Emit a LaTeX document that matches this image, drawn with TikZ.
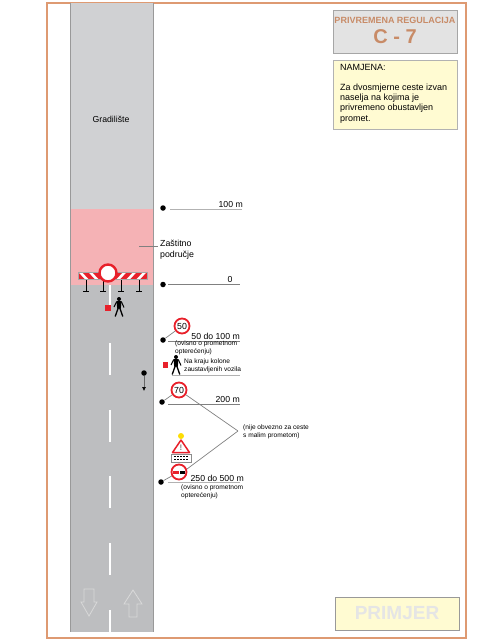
\documentclass[tikz,border=0pt]{standalone}
\usepackage{fontspec}
\setmainfont{Liberation Sans}
\usetikzlibrary{arrows.meta}
\definecolor{frameor}{HTML}{DE9A72}
\definecolor{roadlt}{HTML}{D0D1D3}
\definecolor{roaddk}{HTML}{BDBEC0}
\definecolor{zonepk}{HTML}{F5B2B5}
\definecolor{notebg}{HTML}{FFFBD2}
\definecolor{signred}{HTML}{E8202A}
\tikzset{
  dot/.style={circle,fill=black,inner sep=0pt,minimum size=5.5pt},
  lead/.style={draw=black!50,line width=.7pt},
  base/.style={draw=black!30,line width=.9pt},
  speed/.style={circle,draw=signred,fill=white,line width=1.8pt,inner sep=0pt,minimum size=15pt,font=\fontsize{8.8}{8.8}\selectfont},
  lab/.style={font=\fontsize{8.7}{8.7}\selectfont,inner sep=0pt},
  small/.style={font=\fontsize{6.6}{7.6}\selectfont,inner sep=0pt,align=left,anchor=west},
  note/.style={font=\fontsize{9}{10.3}\selectfont,inner sep=0pt,align=left,anchor=west},
  worker/.pic={
    \fill[black] (0,-8) circle (2);
    \fill[black] (-2.5,-5.8)--(2.5,-5.8)--(1.8,1.5)--(-1.8,1.5)--cycle;
    \draw[black,line width=1pt] (-5,0)--(-2.3,-5.5) (2.3,-5.5)--(5,0.5);
    \draw[black,line width=1.3pt] (-.8,1)--(-3.8,9.5) (.8,1)--(3.8,9.5);
  }
}
\begin{document}
\begin{tikzpicture}[x=1pt,y=-1pt]
\useasboundingbox (0,0) rectangle (490,642);
% frame
\draw[frameor,line width=1.3pt] (47,3) rectangle (466,638);
% road
\fill[roadlt] (70,3) rectangle (153,209);
\fill[zonepk] (70,209) rectangle (153,285);
\fill[roaddk] (70,285) rectangle (153,632);
\draw[black!40,line width=.8pt] (70,3)--(70,632) (153,3)--(153,632);
\foreach \y/\e in {343/375,410/442,476/508,543/575,610/632}{
  \draw[white,line width=2pt] (110,\y)--(110,\e);
}
\draw[white,line width=2.2pt] (110,285)--(110,305);
\node[lab] (site) at (111,119) {Gradilište};
% bottom arrows
\draw[white!85!black,line width=.8pt,fill=roaddk] (84,589)--(94,589)--(94,602)--(97,602)--(89,616)--(81,602)--(84,602)--cycle;
\draw[white!85!black,line width=.8pt,fill=roaddk] (129,617)--(137,617)--(137,604)--(142,604)--(133,590)--(124,604)--(129,604)--cycle;
% barrier
\foreach \x in {86,103,121,139}{
  \draw[black,line width=.8pt] (\x,279)--(\x,291) (\x-3,291)--(\x+3,291);
}
\fill[white] (78,272) rectangle (147,279.5);
\begin{scope}
  \clip (78,272) rectangle (147,279.5);
  \foreach \x in {72,82,...,102}{
    \fill[signred] (\x,272)--(\x+6,272)--(\x+13,279.5)--(\x+7,279.5)--cycle;
  }
  \foreach \x in {110,120,...,150}{
    \fill[signred] (\x,279.5)--(\x+6,279.5)--(\x+13,272)--(\x+7,272)--cycle;
  }
\end{scope}
\draw[black!35,line width=.4pt] (78,272) rectangle (147,279.5);
\node[circle,draw=signred,fill=white,line width=2.4pt,inner sep=0pt,minimum size=17pt] (closed) at (108,273) {};
\fill[signred] (105,305) rectangle (110.5,310.5);
\pic at (119,307) {worker};
% distances
\node[dot] (d100) at (163,208) {};
\coordinate (e100) at (242,209);
\coordinate (s100) at (170,209);
\draw[base] (s100)--(e100);
\node[lab,anchor=south east] (l100) at (243,207.5) {100 m};
\node[dot] (d0) at (163,284.5) {};
\coordinate (e0) at (240,284);
\coordinate (s0) at (168,284);
\draw[lead] (s0)--(e0);
\node[lab,anchor=south] (l0) at (230,283) {0};
\coordinate (zone) at (139,246);
\node[note,font=\fontsize{8.8}{11}\selectfont] (zlab) at (160,249.5) {Zaštitno\\područje};
\draw[lead] (zone)--(158,246);
% first speed sign
\node[speed] (s50) at (182,326) {50};
\node[dot] (d50) at (163,340) {};
\draw[lead] (d50)--(s50);
\coordinate (s50a) at (168,341);
\coordinate (s50b) at (240,341);
\draw[lead] (s50a)--(s50b);
\node[lab,anchor=south east] (l50) at (240,339.5) {50 do 100 m};
\node[small] (o50) at (175,348) {(ovisno o prometnom\\opterećenju)};
% end of queue
\fill[signred] (163,362) rectangle (168,367.5);
\pic at (176,365) {worker};
\node[small] (qlab) at (184,366) {Na kraju kolone\\zaustavljenih vozila};
\coordinate (qa) at (172,375);
\coordinate (qb) at (240,375);
\draw[base] (qa)--(qb);
\node[dot] (dq) at (144,373) {};
\coordinate (tq) at (144,391);
\draw[black!60,line width=.6pt,-{Latex[black,length=4pt,width=4pt]}] (dq)--(tq);
% second speed sign
\node[speed] (s70) at (179,390) {70};
\node[dot] (d70) at (162,402) {};
\draw[lead] (d70)--(s70);
\coordinate (s70a) at (168,404);
\coordinate (s70b) at (240,404);
\draw[lead] (s70a)--(s70b);
\node[lab,anchor=south east] (l200) at (240,402.5) {200 m};
% warning set
\coordinate (apex) at (238,431);
\node[small] (nlab) at (243,432) {(nije obvezno za ceste\\s malim prometom)};
\fill[yellow!80!orange] (181,436) circle (3);
\draw[signred,fill=white,line width=1.5pt,line join=round] (181,440)--(189.5,452.5)--(172.5,452.5)--cycle;
\node[font=\fontsize{8}{8}\selectfont\bfseries,text=black!50,inner sep=0pt] (warn) at (181,447.5) {!};
\node[draw=black!45,fill=white,line width=.8pt,minimum width=20pt,minimum height=8pt,inner sep=0pt] (panel) at (181,458) {};
\foreach \y in {456.5,459.5}{
  \draw[black,line width=.7pt,dash pattern=on 2pt off 1pt] (174,\y)--(188,\y);
}
\draw[lead] (apex)--(187,469);
\draw[lead] (s70)--(apex);
\node[speed] (nopass) at (179,472) {};
\fill[signred] (173,470.5) rectangle (178.5,473.5);
\fill[black] (179.5,470.5) rectangle (185,473.5);
\node[dot] (d250) at (161,482) {};
\draw[lead] (d250)--(nopass);
\coordinate (s250a) at (168,482);
\coordinate (s250b) at (240,482);
\draw[base] (s250a)--(s250b);
\node[lab,anchor=south east] (l250) at (244,481.5) {250 do 500 m};
\node[small] (o250) at (181,491.5) {(ovisno o prometnom\\opterećenju)};
% title
\node[draw=black!35,fill=black!11,line width=.8pt,minimum width=124pt,minimum height=43pt,inner sep=0pt] (tbox) at (395,31.5) {};
\node[text=frameor!90!black,inner sep=0pt,font=\fontsize{9}{9}\selectfont\bfseries] (ttxt) at (395,20) {PRIVREMENA REGULACIJA};
\node[text=frameor!90!black,inner sep=0pt,font=\fontsize{20}{20}\selectfont\bfseries] (tnum) at (395,37) {C - 7};
\node[draw=black!30,fill=notebg,line width=.8pt,minimum width=124pt,minimum height=69pt,inner sep=0pt] (nbox) at (395,94.5) {};
\node[note] (nhead) at (340,67) {NAMJENA:};
\node[note] (ntxt) at (340,103.5) {Za dvosmjerne ceste izvan\\naselja na kojima je\\privremeno obustavljen\\promet.};
% example
\node[draw=black!40,fill=notebg,line width=.8pt,minimum width=124pt,minimum height=33pt,inner sep=0pt,text=black!10,font=\fontsize{19}{19}\selectfont\bfseries] (ex) at (397,613.5) {PRIMJER};
\end{tikzpicture}
\end{document}
